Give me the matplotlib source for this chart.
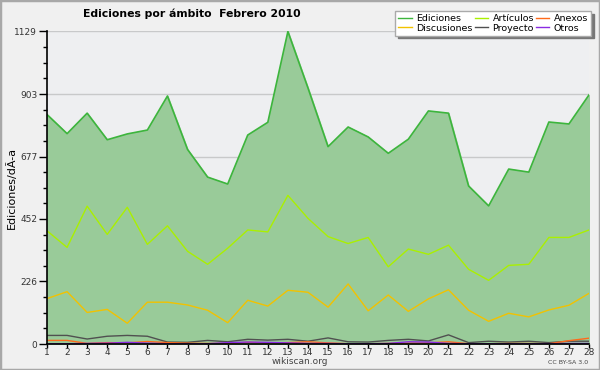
import matplotlib
matplotlib.use("Agg")
import matplotlib.pyplot as plt
from matplotlib.ticker import FixedLocator
from matplotlib.patches import Rectangle

days = list(range(1, 29))
ediciones = [829, 760, 834, 738, 759, 773, 896, 703, 603, 578, 755, 801, 1129, 925,
             713, 784, 748, 689, 740, 842, 834, 571, 499, 632, 621, 802, 795, 900]
articulos = [409, 349, 498, 396, 494, 360, 427, 335, 288, 346, 412, 405, 537, 454,
             388, 363, 385, 279, 343, 324, 357, 270, 230, 284, 288, 385, 385, 412]
discusiones = [164, 189, 114, 125, 75, 151, 151, 141, 122, 77, 158, 137, 194, 187,
               133, 217, 120, 177, 118, 163, 196, 122, 82, 111, 98, 123, 140, 183]
proyecto = [31, 31, 18, 28, 31, 28, 7, 6, 13, 8, 17, 14, 17, 10,
            22, 8, 7, 13, 17, 11, 33, 5, 10, 7, 10, 5, 10, 10]
anexos = [13, 13, 2, 5, 4, 9, 5, 3, 2, 2, 6, 4, 5, 8,
          4, 1, 1, 2, 3, 4, 8, 1, 1, 2, 2, 1, 12, 21]
otros = [1, 1, 2, 3, 6, 3, 1, 1, 1, 5, 7, 6, 4, 2,
         2, 1, 1, 2, 8, 7, 2, 1, 1, 1, 1, 1, 2, 2]
yticks = [0, 226, 452, 677, 903, 1129]

title = "Ediciones por ámbito  Febrero 2010"
ylabel = "Ediciones/dÃ-a"

plt.rcParams['font.family'] = ['DejaVu Sans']

fig = plt.figure(figsize=(6, 3.7), dpi=100, facecolor='#f0f0f0')
fig.patches.append(Rectangle((0, 0), 1, 1, transform=fig.transFigure,
                             fill=False, edgecolor='#a8a8a8', linewidth=2.5))
ax = fig.add_axes([47/600, 26/370, 542/600, 312.5/370])
ax.set_facecolor('#eeeff1')

ax.fill_between(days, 0, ediciones, color='#99cb99', zorder=2)
ax.plot(days, ediciones, color='#3db53d', lw=1.2, zorder=3, label='Ediciones')
ax.plot(days, discusiones, color='#f2c200', lw=1.0, zorder=3, label='Discusiones')
ax.plot(days, articulos, color='#aaf000', lw=1.0, zorder=3, label='Artículos')
ax.plot(days, proyecto, color='#505050', lw=1.0, zorder=3, label='Proyecto')
ax.plot(days, anexos, color='#ff6a1a', lw=1.0, zorder=3, label='Anexos')
ax.plot(days, otros, color='#8a2be2', lw=1.0, zorder=3, label='Otros')

ax.set_xlim(1, 28)
ax.set_ylim(0, 1129)
ax.set_xticks(days)
ax.set_yticks(yticks)
ax.yaxis.set_minor_locator(FixedLocator([v + (yticks[1]-yticks[0]) * k / 4
                                         for v in yticks[:-1] for k in (1, 2, 3)]))
ax.grid(axis='y', color='#b0b0b0', lw=1.0, alpha=0.6, zorder=2.5)
for s in ['top', 'right']:
    ax.spines[s].set_visible(False)
ax.spines['left'].set_linewidth(1.2)
ax.spines['bottom'].set_linewidth(1.2)
ax.spines['left'].set_zorder(5)
ax.spines['bottom'].set_zorder(5)
ax.tick_params(axis='y', which='major', labelsize=6.5, colors='black',
               labelcolor='#333333', length=6, width=1, pad=1)
ax.tick_params(axis='y', which='minor', length=3, width=1)
ax.tick_params(axis='x', which='major', labelsize=6.5, colors='black',
               labelcolor='#333333', length=3, width=1, pad=0)

fig.text(11/600, 1 - 188/370, ylabel, fontsize=8, rotation=90,
         ha='center', va='center')
fig.text(192/600, 1 - 14/370, title, fontsize=7.8, fontweight='bold',
         ha='center', va='center')
leg = ax.legend(loc='upper right', bbox_to_anchor=(591/600, 1 - 11/370),
                bbox_transform=fig.transFigure, ncol=3, fontsize=6.8,
                frameon=True, fancybox=False, shadow={'color': '#777777', 'alpha': 1},
                handlelength=1.4, handletextpad=0.5, columnspacing=0.2,
                labelspacing=0.1, borderpad=0.3, borderaxespad=0)
leg.get_frame().set_edgecolor('#aaaaaa')
leg.get_frame().set_linewidth(1)
for line in leg.get_lines():
    line.set_linewidth(1.0)

fig.text(300/600, 1 - 362/370, "wikiscan.org", fontsize=6.5, color='#444444',
         ha='center', va='center')
fig.text(588/600, 1 - 362/370, "CC BY-SA 3.0", fontsize=4.5, color='#444444',
         ha='right', va='center')

fig.savefig("out.png", dpi=100, facecolor=fig.get_facecolor())
